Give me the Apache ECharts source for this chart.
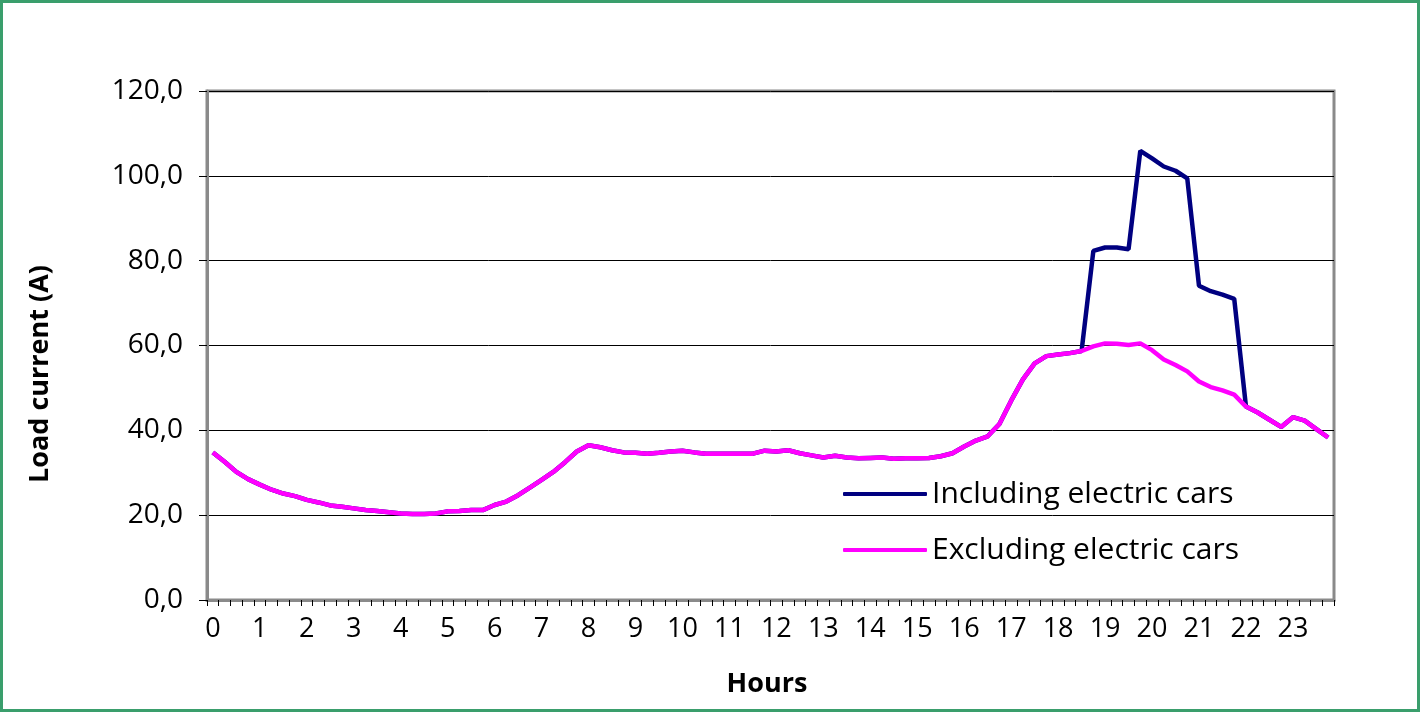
<!DOCTYPE html>
<html>
<head>
<meta charset="utf-8">
<script src="https://cdn.jsdelivr.net/npm/echarts@6/dist/echarts.min.js"></script>
<style>
html,body{margin:0;padding:0;background:#fff;}
#chart{width:1421px;height:713px;}
</style>
</head>
<body>
<div id="chart"></div>
<script>
// Hour tick labels and quarter-hour steps
const hourLabels = ['0','1','2','3','4','5','6','7','8','9','10','11','12','13','14','15','16','17','18','19','20','21','22','23'];
const quarterLabels = ['00','15','30','45'];

// Load current excluding electric cars (A), 96 quarter-hour values
const excludingEV = [
  34.8, 32.6, 30.2, 28.5, 27.2, 26.0, 25.1, 24.5,
  23.6, 23.0, 22.3, 22.0, 21.6, 21.2, 21.0, 20.7,
  20.4, 20.3, 20.3, 20.4, 20.9, 21.0, 21.2, 21.2,
  22.4, 23.2, 24.7, 26.5, 28.3, 30.2, 32.5, 35.0,
  36.5, 36.0, 35.3, 34.8, 34.7, 34.5, 34.7, 35.0,
  35.2, 34.8, 34.5, 34.5, 34.5, 34.5, 34.5, 35.2,
  35.0, 35.3, 34.6, 34.1, 33.6, 34.0, 33.6, 33.4,
  33.5, 33.6, 33.3, 33.4, 33.4, 33.5, 33.9, 34.6,
  36.2, 37.6, 38.6, 41.5, 47.0, 52.0, 55.8, 57.5,
  57.9, 58.2, 58.7, 59.8, 60.5, 60.4, 60.1, 60.5,
  58.9, 56.7, 55.4, 53.9, 51.5, 50.2, 49.4, 48.4,
  45.6, 44.2, 42.5, 40.8, 43.1, 42.3, 40.3, 38.3
];

// Load current including electric cars (A), 96 quarter-hour values
const includingEV = [
  34.8, 32.6, 30.2, 28.5, 27.2, 26.0, 25.1, 24.5,
  23.6, 23.0, 22.3, 22.0, 21.6, 21.2, 21.0, 20.7,
  20.4, 20.3, 20.3, 20.4, 20.9, 21.0, 21.2, 21.2,
  22.4, 23.2, 24.7, 26.5, 28.3, 30.2, 32.5, 35.0,
  36.5, 36.0, 35.3, 34.8, 34.7, 34.5, 34.7, 35.0,
  35.2, 34.8, 34.5, 34.5, 34.5, 34.5, 34.5, 35.2,
  35.0, 35.3, 34.6, 34.1, 33.6, 34.0, 33.6, 33.4,
  33.5, 33.6, 33.3, 33.4, 33.4, 33.5, 33.9, 34.6,
  36.2, 37.6, 38.6, 41.5, 47.0, 52.0, 55.8, 57.5,
  57.9, 58.2, 58.7, 82.3, 83.1, 83.1, 82.7, 105.9,
  104.1, 102.2, 101.2, 99.4, 74.1, 72.8, 72.0, 71.0,
  45.6, 44.2, 42.5, 40.8, 43.1, 42.3, 40.3, 38.3
];

const seriesNames = ['Including electric cars', 'Excluding electric cars'];
const yTicks = { min: 0, max: 120, interval: 20 };

const categories = [];
hourLabels.forEach(h => quarterLabels.forEach(q => categories.push(h + ':' + q)));

const FONT = 'Open Sans';
const chart = echarts.init(document.getElementById('chart'), null, { renderer: 'canvas' });
chart.setOption({
  animation: false,
  backgroundColor: '#ffffff',
  grid: {
    left: 207, top: 91, right: 87, bottom: 113,
    show: true, borderColor: '#8a8a8a', borderWidth: 3, backgroundColor: '#ffffff'
  },
  legend: {
    orient: 'vertical',
    left: 838, top: 472,
    itemWidth: 84, itemHeight: 4, itemGap: 22,
    icon: 'roundRect',
    data: seriesNames,
    textStyle: { fontFamily: FONT, fontSize: 30, color: '#000', lineHeight: 34 }
  },
  xAxis: {
    type: 'category',
    data: categories,
    boundaryGap: true,
    axisLine: { show: true, lineStyle: { color: '#8a8a8a', width: 3 } },
    axisTick: { show: true, interval: 0, length: 6, lineStyle: { color: '#000', width: 1 } },
    axisLabel: {
      interval: 3, margin: 16,
      fontFamily: FONT, fontSize: 27, color: '#000',
      formatter: v => v.split(':')[0]
    },
    splitLine: { show: false }
  },
  yAxis: {
    type: 'value',
    min: yTicks.min, max: yTicks.max, interval: yTicks.interval,
    axisLine: { show: true, lineStyle: { color: '#8a8a8a', width: 3 } },
    axisTick: { show: true, length: 8, lineStyle: { color: '#000', width: 1 } },
    axisLabel: {
      margin: 24, fontFamily: FONT, fontSize: 28, color: '#000',
      formatter: v => v.toFixed(1).replace('.', ',')
    },
    splitLine: { show: true, lineStyle: { color: '#000', width: 1 } }
  },
  series: [
    {
      name: seriesNames[0], type: 'line', data: includingEV,
      showSymbol: false, symbol: 'none',
      lineStyle: { color: '#000080', width: 4.5 }, itemStyle: { color: '#000080' }, z: 2
    },
    {
      name: seriesNames[1], type: 'line', data: excludingEV,
      showSymbol: false, symbol: 'none',
      lineStyle: { color: '#ff00ff', width: 4.5 }, itemStyle: { color: '#ff00ff' }, z: 3
    }
  ],
  graphic: [
    {
      type: 'rect', z: 100, silent: true,
      shape: { x: 1.5, y: 1.5, width: 1417, height: 709 },
      style: { fill: 'none', stroke: '#3a9e6c', lineWidth: 3 }
    },
    {
      type: 'text', z: 100,
      x: 767, y: 684,
      style: { text: 'Hours', fontFamily: FONT, fontWeight: 'bold', fontSize: 27, fill: '#000', align: 'center', verticalAlign: 'middle' }
    },
    {
      type: 'text', z: 100,
      x: 40, y: 374, rotation: Math.PI / 2,
      style: { text: 'Load current (A)', fontFamily: FONT, fontWeight: 'bold', fontSize: 27, fill: '#000', align: 'center', verticalAlign: 'middle' }
    }
  ]
});
</script>
</body>
</html>
